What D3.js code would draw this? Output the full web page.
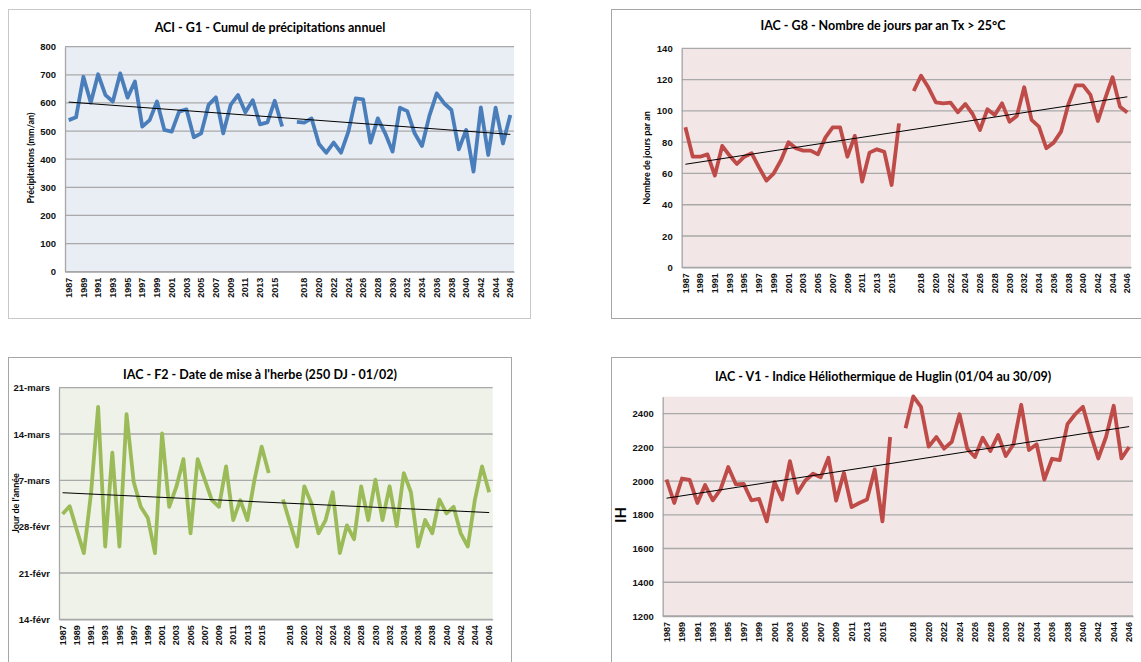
<!DOCTYPE html>
<html>
<head>
<meta charset="utf-8">
<script src="https://cdn.jsdelivr.net/npm/d3@7"></script>
<style>
	body { margin: 0; background: #fff; }
	svg { display: block; font-family: Lato, 'Liberation Sans', sans-serif; }
	.tick text { font-weight: bold; fill: #111; }
</style>
</head>
<body>
<script>
const w = 1141;
const h = 662;

// categories: 1987-2016, an empty slot, then 2017-2046
const years = [
	1987, 1988, 1989, 1990, 1991, 1992, 1993, 1994, 1995, 1996,
	1997, 1998, 1999, 2000, 2001, 2002, 2003, 2004, 2005, 2006,
	2007, 2008, 2009, 2010, 2011, 2012, 2013, 2014, 2015, 2016,
	null,
	2017, 2018, 2019, 2020, 2021, 2022, 2023, 2024, 2025, 2026,
	2027, 2028, 2029, 2030, 2031, 2032, 2033, 2034, 2035, 2036,
	2037, 2038, 2039, 2040, 2041, 2042, 2043, 2044, 2045, 2046
];

const precipitations = [
	539, 549, 693, 601, 702, 628, 605, 705, 619, 676,
	516, 539, 605, 504, 498, 569, 577, 478, 492, 593,
	620, 492, 593, 628, 567, 610, 524, 531, 608, 516,
	null,
	533, 530, 545, 454, 423, 459, 423, 498, 616, 613,
	459, 545, 492, 427, 583, 571, 492, 447, 554, 634,
	599, 575, 435, 504, 356, 584, 415, 583, 456, 557
];

const joursTx25 = [
	89.5, 70.7, 70.7, 72.2, 58.6, 77.6, 71.4, 66.1, 70.7, 72.9,
	63.9, 55.4, 60.1, 68.6, 79.9, 76.1, 74.6, 74.6, 72.2, 82.9,
	89.5, 89.5, 70.7, 84.0, 54.8, 73.3, 75.4, 73.9, 52.6, 92.0,
	null,
	112.7, 122.5, 114.9, 105.5, 104.8, 105.3, 99.1, 104.4, 98.0, 87.8,
	101.0, 97.4, 104.8, 93.1, 96.7, 115.1, 94.2, 89.9, 76.1, 79.7,
	86.7, 104.2, 116.3, 116.3, 110.2, 93.5, 108.0, 121.5, 102.7, 98.9
];

// day of year (45 = 14 February)
const miseHerbe = [
	60.9, 62.1, 58.5, 55.0, 64.0, 77.1, 56.0, 70.2, 56.0, 76.0,
	65.8, 62.0, 60.3, 55.0, 73.1, 62.0, 65.0, 69.2, 58.0, 69.2,
	66.1, 63.0, 62.0, 68.1, 60.0, 63.0, 60.0, 66.1, 71.1, 67.1,
	null,
	63.1, 59.5, 56.0, 65.1, 62.5, 58.0, 60.0, 64.2, 55.0, 59.2,
	57.1, 65.1, 60.0, 66.1, 60.0, 65.1, 59.1, 67.1, 64.2, 56.0,
	60.0, 58.0, 63.1, 61.0, 62.0, 58.0, 56.0, 63.1, 68.1, 64.2
];

const huglin = [
	2009, 1870, 2015, 2007, 1870, 1976, 1886, 1950, 2083, 1980,
	1983, 1886, 1894, 1761, 1995, 1890, 2118, 1930, 2003, 2043,
	2023, 2138, 1884, 2049, 1845, 1870, 1890, 2069, 1761, 2261,
	null,
	2313, 2502, 2440, 2204, 2261, 2192, 2233, 2396, 2192, 2142,
	2257, 2178, 2273, 2148, 2218, 2452, 2184, 2218, 2009, 2132,
	2124, 2337, 2396, 2440, 2277, 2134, 2261, 2446, 2134, 2202
];

const precipTicks = [0, 100, 200, 300, 400, 500, 600, 700, 800];
const joursTicks = [0, 20, 40, 60, 80, 100, 120, 140];
const dateTicks = [45, 52, 59, 66, 73, 80];
const dateTickLabels = ['14-févr', '21-févr', '28-févr', '7-mars', '14-mars', '21-mars'];
const huglinTicks = [1200, 1400, 1600, 1800, 2000, 2200, 2400];

const charts = [
	{
		title: 'ACI - G1 - Cumul de précipitations annuel',
		yLabel: 'Précipitations (mm/an)',
		values: precipitations,
		domain: [0, 800],
		ticks: precipTicks,
		format: d => d,
		color: '#4A7EBB',
		bg: '#E9EDF4',
		frame: { x: 8.5, y: 9.5, w: 522, h: 309, stroke: '#c8c8c8' },
		plot: { l: 65, t: 46.7, r: 514, b: 271.7 },
		titlePos: [270, 29],
		yLabelPos: [31.5, 158],
		yLabelSize: 9
	},
	{
		title: 'IAC - G8 - Nombre de jours par an Tx > 25°C',
		yLabel: 'Nombre de jours par an',
		values: joursTx25,
		domain: [0, 140],
		ticks: joursTicks,
		format: d => d,
		color: '#BE4B48',
		bg: '#F2E6E6',
		frame: { x: 611.5, y: 9.5, w: 560, h: 309, stroke: '#a6a6a6' },
		plot: { l: 681.7, t: 48.3, r: 1131, b: 267.3 },
		titlePos: [883, 27],
		yLabelPos: [647.5, 158],
		yLabelSize: 9
	},
	{
		title: 'IAC - F2 - Date de mise à l\'herbe (250 DJ - 01/02)',
		yLabel: 'Jour de l\'année',
		values: miseHerbe,
		domain: [45, 80],
		ticks: dateTicks,
		format: d => dateTickLabels[dateTicks.indexOf(d)],
		color: '#9BBB59',
		bg: '#EEF2E8',
		frame: { x: 8.5, y: 357.5, w: 503, h: 400, stroke: '#a6a6a6' },
		plot: { l: 59, t: 387.7, r: 492.7, b: 619.3 },
		titlePos: [260, 375.5],
		yLabelPos: [17, 503],
		yLabelSize: 9
	},
	{
		title: 'IAC - V1 - Indice Héliothermique de Huglin (01/04 au 30/09)',
		yLabel: 'IH',
		values: huglin,
		domain: [1200, 2500],
		ticks: huglinTicks,
		format: d => d,
		color: '#BE4B48',
		bg: '#F2E6E6',
		frame: { x: 611.5, y: 357.5, w: 560, h: 400, stroke: '#a6a6a6' },
		plot: { l: 662.7, t: 396.7, r: 1133, b: 616 },
		titlePos: [883, 377.5],
		yLabelPos: [622.5, 515],
		yLabelSize: 15
	}
];

const svg = d3.select('body').append('svg')
	.attr('width', w)
	.attr('height', h);

charts.forEach(c => {
	const g = svg.append('g');

	g.append('rect')
		.attr('x', c.frame.x)
		.attr('y', c.frame.y)
		.attr('width', c.frame.w)
		.attr('height', c.frame.h)
		.attr('fill', '#fff')
		.attr('stroke', c.frame.stroke)
		.attr('stroke-width', 1);

	const x = d3.scaleBand()
		.domain(d3.range(years.length))
		.range([c.plot.l, c.plot.r]);
	const cx = i => x(i) + x.bandwidth() / 2;

	const y = d3.scaleLinear()
		.domain(c.domain)
		.range([c.plot.b, c.plot.t]);

	g.append('rect')
		.attr('x', c.plot.l)
		.attr('y', c.plot.t)
		.attr('width', c.plot.r - c.plot.l)
		.attr('height', c.plot.b - c.plot.t)
		.attr('fill', c.bg);

	// gridlines
	g.append('g')
		.selectAll('line')
		.data(c.ticks)
		.enter()
		.append('line')
		.attr('x1', c.plot.l)
		.attr('x2', c.plot.r)
		.attr('y1', d => y(d))
		.attr('y2', d => y(d))
		.attr('stroke', '#a9a9a9')
		.attr('stroke-width', 1.3);

	const yAxis = d3.axisLeft(y)
		.tickValues(c.ticks)
		.tickFormat(c.format)
		.tickSize(0)
		.tickPadding(9);

	g.append('g')
		.attr('transform', `translate(${c.plot.l},0)`)
		.call(yAxis)
		.call(a => a.select('.domain').attr('stroke', '#a6a6a6').attr('stroke-width', 1.3))
		.selectAll('text')
		.style('font-size', '9.5px');

	const xAxis = d3.axisBottom(x)
		.tickValues(d3.range(0, years.length, 2))
		.tickFormat(i => years[i] === null ? '' : years[i])
		.tickSize(0);

	g.append('g')
		.attr('transform', `translate(0,${c.plot.b})`)
		.call(xAxis)
		.call(a => a.select('.domain').attr('stroke', '#a6a6a6').attr('stroke-width', 1.3))
		.selectAll('text')
		.style('font-size', '9px')
		.attr('transform', 'rotate(-90)')
		.attr('text-anchor', 'end')
		.attr('x', -6)
		.attr('y', 0)
		.attr('dy', '0.35em');

	const line = d3.line()
		.defined(d => d[1] !== null)
		.x(d => cx(d[0]))
		.y(d => y(d[1]));

	const pts = c.values.map((v, i) => [i, v]);

	g.append('path')
		.datum(pts)
		.attr('d', line)
		.attr('fill', 'none')
		.attr('stroke', c.color)
		.attr('stroke-width', 3.8)
		.attr('stroke-linejoin', 'round');

	// linear trend, least squares on the category index
	const known = pts.filter(d => d[1] !== null);
	const mx = d3.mean(known, d => d[0]);
	const my = d3.mean(known, d => d[1]);
	const slope = d3.sum(known, d => (d[0] - mx) * (d[1] - my)) / d3.sum(known, d => (d[0] - mx) * (d[0] - mx));
	const trend = i => my + slope * (i - mx);
	const first = 0;
	const last = years.length - 1;

	g.append('line')
		.attr('x1', cx(first))
		.attr('x2', cx(last))
		.attr('y1', y(trend(first)))
		.attr('y2', y(trend(last)))
		.attr('stroke', '#000')
		.attr('stroke-width', 1);

	g.append('text')
		.attr('x', c.titlePos[0])
		.attr('y', c.titlePos[1])
		.attr('text-anchor', 'middle')
		.attr('dominant-baseline', 'middle')
		.style('font-size', '12.5px')
		.style('font-weight', 'bold')
		.text(c.title);

	g.append('text')
		.attr('transform', `translate(${c.yLabelPos[0]},${c.yLabelPos[1]}) rotate(-90)`)
		.attr('text-anchor', 'middle')
		.attr('dominant-baseline', 'middle')
		.style('font-size', c.yLabelSize + 'px')
		.style('font-weight', 'bold')
		.text(c.yLabel);
});
</script>
</body>
</html>
